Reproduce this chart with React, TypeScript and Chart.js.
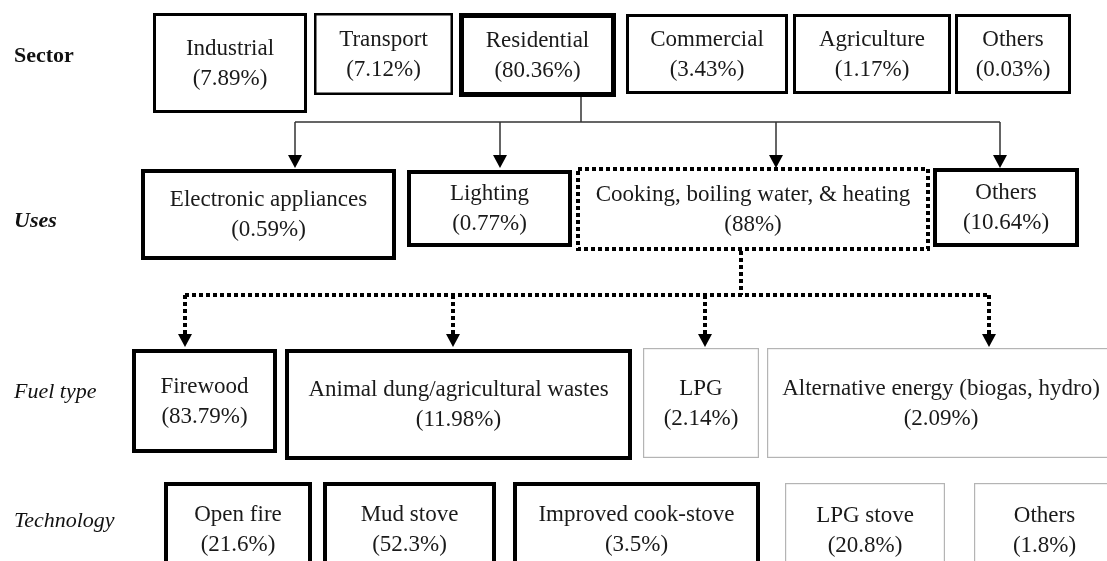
import { useEffect, useRef } from "react";
import { Chart, registerables } from "chart.js";

Chart.register(...registerables);

// ---------- data ----------
const rowLabels = ["Sector", "Uses", "Fuel type", "Technology"];

const sectorLabels = ["Industrial", "Transport", "Residential", "Commercial", "Agriculture", "Others"];
const sectorShares = [7.89, 7.12, 80.36, 3.43, 1.17, 0.03];

const useLabels = ["Electronic appliances", "Lighting", "Cooking, boiling water, & heating", "Others"];
const useShares = [0.59, 0.77, 88, 10.64];

const fuelLabels = ["Firewood", "Animal dung/agricultural wastes", "LPG", "Alternative energy (biogas, hydro)"];
const fuelShares = [83.79, 11.98, 2.14, 2.09];

const techLabels = ["Open fire", "Mud stove", "Improved cook-stove", "LPG stove", "Others"];
const techShares = [21.6, 52.3, 3.5, 20.8, 1.8];

// ---------- layout (diagram units, 1107 x 561 domain) ----------
const W = 1107;
const H = 561;

const rowLabelPos = [
  [14, 56],
  [14, 221],
  [14, 392],
  [14, 521],
];
const rowLabelFonts = ["bold", "bold italic", "italic", "italic"];

const sectorBoxes = [
  [153, 307, 13, 113],
  [314, 453, 13, 95],
  [459, 616, 13, 97],
  [626, 788, 14, 94],
  [793, 951, 14, 94],
  [955, 1071, 14, 94],
];
const sectorStyles = [["solid", 3], ["solid", 2.5], ["solid", 5], ["solid", 3], ["solid", 3], ["solid", 3]];

const useBoxes = [
  [141, 396, 169, 260],
  [407, 572, 170, 247],
  [576, 930, 167, 251],
  [933, 1079, 168, 247],
];
const useStyles = [["solid", 4], ["solid", 4], ["dotted", 4], ["solid", 4]];

const fuelBoxes = [
  [132, 277, 349, 453],
  [285, 632, 349, 460],
  [643, 759, 348, 458],
  [767, 1115, 348, 458],
];
const fuelStyles = [["solid", 4], ["solid", 4], ["thin", 1.2], ["thin", 1.2]];

const techBoxes = [
  [164, 312, 482, 600],
  [323, 496, 482, 600],
  [513, 760, 482, 600],
  [785, 945, 483, 600],
  [974, 1115, 483, 600],
];
const techStyles = [["solid", 4], ["solid", 4], ["solid", 4], ["thin", 1.2], ["thin", 1.2]];

// connectors
const solidStem = [581, 97, 122];
const solidBar = [295, 1000, 122];
const solidArrowXs = [295, 500, 776, 1000];
const solidArrowTip = 168;

const dotStem = [741, 251, 295];
const dotBar = [185, 989, 295];
const dotArrowXs = [185, 453, 705, 989];
const dotArrowTip = 347;

const FONT = "'Liberation Serif', 'Times New Roman', serif";
const fmt = (v: number) => `(${v}%)`;

const diagramPlugin = {
  id: "diagram",
  afterDraw(chart: any) {
    const ctx: CanvasRenderingContext2D = chart.ctx;
    const xs = chart.scales.x;
    const ys = chart.scales.y;
    const px = (v: number) => xs.getPixelForValue(v);
    const py = (v: number) => ys.getPixelForValue(v);

    ctx.save();
    ctx.fillStyle = "#ffffff";
    ctx.fillRect(0, 0, chart.width, chart.height);

    // row labels
    ctx.fillStyle = "#111";
    ctx.textAlign = "left";
    ctx.textBaseline = "middle";
    rowLabels.forEach((t, i) => {
      ctx.font = `${rowLabelFonts[i]} 22px ${FONT}`;
      ctx.fillText(t, px(rowLabelPos[i][0]), py(rowLabelPos[i][1]));
    });

    const drawBox = (b: number[], st: any[], name: string, val: number) => {
      const x0 = px(b[0]), x1 = px(b[1]), y0 = py(b[2]), y1 = py(b[3]);
      const lw = st[1] as number;
      ctx.save();
      ctx.lineWidth = lw;
      ctx.strokeStyle = st[0] === "thin" ? "#b4b4b4" : "#000";
      if (st[0] === "dotted") ctx.setLineDash([4, 3]);
      ctx.strokeRect(x0 + lw / 2, y0 + lw / 2, x1 - x0 - lw, y1 - y0 - lw);
      ctx.restore();
      const cx = (x0 + x1) / 2;
      const cy = (y0 + (b[3] > H ? py(H) + 16 : y1)) / 2;
      ctx.fillStyle = "#1a1a1a";
      ctx.font = `23px ${FONT}`;
      ctx.textAlign = "center";
      ctx.textBaseline = "middle";
      ctx.fillText(name, cx, cy - 14.5);
      ctx.fillText(fmt(val), cx, cy + 15.5);
    };

    sectorLabels.forEach((n, i) => drawBox(sectorBoxes[i], sectorStyles[i], n, sectorShares[i]));
    useLabels.forEach((n, i) => drawBox(useBoxes[i], useStyles[i], n, useShares[i]));
    fuelLabels.forEach((n, i) => drawBox(fuelBoxes[i], fuelStyles[i], n, fuelShares[i]));
    techLabels.forEach((n, i) => drawBox(techBoxes[i], techStyles[i], n, techShares[i]));

    const head = (x: number, tip: number) => {
      ctx.fillStyle = "#000";
      ctx.beginPath();
      ctx.moveTo(px(x), py(tip));
      ctx.lineTo(px(x) - 7, py(tip) - 13);
      ctx.lineTo(px(x) + 7, py(tip) - 13);
      ctx.closePath();
      ctx.fill();
    };

    // solid connectors
    ctx.strokeStyle = "#333";
    ctx.lineWidth = 1.5;
    ctx.setLineDash([]);
    ctx.beginPath();
    ctx.moveTo(px(solidStem[0]), py(solidStem[1]));
    ctx.lineTo(px(solidStem[0]), py(solidStem[2]));
    ctx.moveTo(px(solidBar[0]), py(solidBar[2]));
    ctx.lineTo(px(solidBar[1]), py(solidBar[2]));
    solidArrowXs.forEach((x) => {
      ctx.moveTo(px(x), py(solidBar[2]));
      ctx.lineTo(px(x), py(solidArrowTip) - 12);
    });
    ctx.stroke();
    solidArrowXs.forEach((x) => head(x, solidArrowTip));

    // dotted connectors
    ctx.strokeStyle = "#000";
    ctx.lineWidth = 4;
    ctx.setLineDash([4, 3]);
    ctx.beginPath();
    ctx.moveTo(px(dotStem[0]), py(dotStem[1]));
    ctx.lineTo(px(dotStem[0]), py(dotStem[2]));
    ctx.stroke();
    ctx.beginPath();
    ctx.moveTo(px(dotBar[0]), py(dotBar[2]));
    ctx.lineTo(px(dotBar[1]), py(dotBar[2]));
    ctx.stroke();
    dotArrowXs.forEach((x) => {
      ctx.beginPath();
      ctx.moveTo(px(x), py(dotBar[2]));
      ctx.lineTo(px(x), py(dotArrowTip) - 12);
      ctx.stroke();
    });
    ctx.setLineDash([]);
    dotArrowXs.forEach((x) => head(x, dotArrowTip));

    ctx.restore();
  },
};

export default function App() {
  const ref = useRef<HTMLCanvasElement>(null);
  useEffect(() => {
    document.body.style.margin = "0";
    document.body.style.overflow = "hidden";
    const centers = [
      ...sectorBoxes, ...useBoxes, ...fuelBoxes, ...techBoxes,
    ].map((b) => ({ x: (b[0] + b[1]) / 2, y: (b[2] + b[3]) / 2 }));
    const chart = new Chart(ref.current!, {
      type: "scatter",
      data: { datasets: [{ data: centers, pointRadius: 0, showLine: false }] },
      options: {
        animation: false,
        responsive: false,
        events: [],
        layout: { padding: 0 },
        plugins: { legend: { display: false }, tooltip: { enabled: false } },
        scales: {
          x: { type: "linear", min: 0, max: W, display: false },
          y: { type: "linear", min: 0, max: H, reverse: true, display: false },
        },
      },
      plugins: [diagramPlugin],
    } as any);
    return () => chart.destroy();
  }, []);
  return <canvas ref={ref} width={W} height={H} style={{ display: "block" }} />;
}
